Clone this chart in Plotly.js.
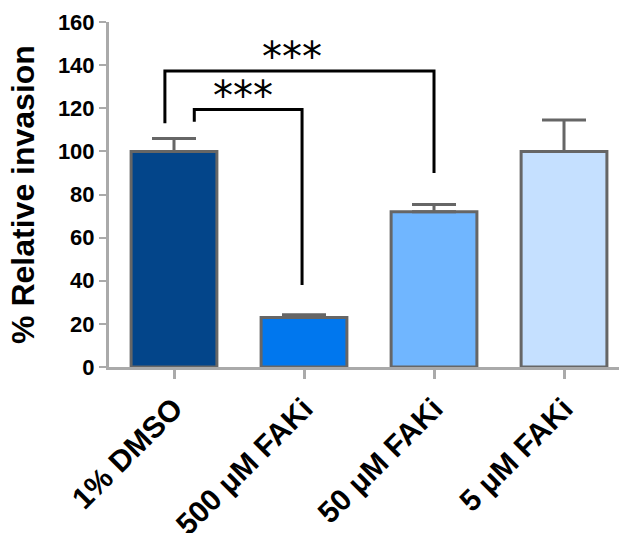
<!DOCTYPE html>
<html>
<head>
<meta charset="utf-8">
<script src="https://cdn.plot.ly/plotly-3.0.1.min.js"></script>
<style>html,body{margin:0;padding:0;background:#fff;}</style>
</head>
<body>
<div id="chart" style="width:619px;height:533px;"></div>
<script>
// ---- data ----
const categories = ["1% DMSO", "500 \u03bcM FAKi", "50 \u03bcM FAKi", "5 \u03bcM FAKi"];
const values = [100, 23, 72, 100];
const errorsUp = [6, 1.2, 3.4, 14.5];
const barColors = ["#03458A", "#0077EE", "#70B6FF", "#C5E0FF"];
// significance comparisons (category indices and bracket heights in data units)
const compFrom = [0, 0];
const compTo = [1, 2];
const compTop = [119.4, 137.3];
const compLeftEnd = [113.7, 113];
const compRightEnd = [38, 90];
const compLabel = ["***", "***"];
const compLabelX = [0.53, 0.905];

const idx = categories.map((c, i) => i);

const traces = [{
  type: 'bar',
  x: idx,
  y: values,
  width: 0.66,
  marker: { color: barColors, line: { color: '#666666', width: 3 } },
  error_y: {
    type: 'data', symmetric: false, array: errorsUp,
    arrayminus: values.map(() => 0),
    color: '#666666', thickness: 3, width: 22
  },
  hoverinfo: 'none'
}];

const leftOffset = [0.156, -0.07];
const rightOffset = [-0.015, 0.0];
const shapes = [];
const annotations = [];
for (let k = 0; k < compFrom.length; k++) {
  const x0 = compFrom[k] + leftOffset[k];
  const x1 = compTo[k] + rightOffset[k];
  shapes.push({
    type: 'path', xref: 'x', yref: 'y',
    path: `M ${x0} ${compLeftEnd[k]} L ${x0} ${compTop[k]} L ${x1} ${compTop[k]} L ${x1} ${compRightEnd[k]}`,
    line: { color: '#000', width: 3 }
  });
  annotations.push({
    xref: 'x', yref: 'y', x: compLabelX[k], y: compTop[k],
    text: compLabel[k], showarrow: false, yanchor: 'bottom', yshift: -11,
    font: { family: 'DejaVu Sans', size: 40, color: '#000' }
  });
}

const layout = {
  width: 619, height: 533,
  margin: { l: 109, r: 0, t: 22, b: 166 },
  paper_bgcolor: '#fff', plot_bgcolor: '#fff',
  showlegend: false,
  xaxis: {
    range: [-0.5, 3.423],
    tickvals: idx, ticktext: categories,
    tickangle: -45,
    showline: true, linecolor: '#aaaaaa', linewidth: 3,
    ticks: 'outside', ticklen: 9, tickwidth: 3, tickcolor: '#aaaaaa',
    showgrid: false, zeroline: false,
    tickfont: { family: 'Arial, Liberation Sans', size: 30, color: '#000', weight: 'bold' },
    automargin: false
  },
  yaxis: {
    range: [0, 160], dtick: 20,
    showline: true, linecolor: '#aaaaaa', linewidth: 3,
    ticks: 'outside', ticklen: 7, tickwidth: 2, tickcolor: '#aaaaaa',
    showgrid: false, zeroline: false,
    tickfont: { family: 'Arial, Liberation Sans', size: 22, color: '#000', weight: 'bold' },
    title: { text: '% Relative invasion', standoff: 14,
      font: { family: 'Arial, Liberation Sans', size: 32, color: '#000', weight: 'bold' } },
    automargin: false
  },
  shapes: shapes,
  annotations: annotations
};

Plotly.newPlot('chart', traces, layout, { displayModeBar: false, staticPlot: true });
</script>
</body>
</html>
